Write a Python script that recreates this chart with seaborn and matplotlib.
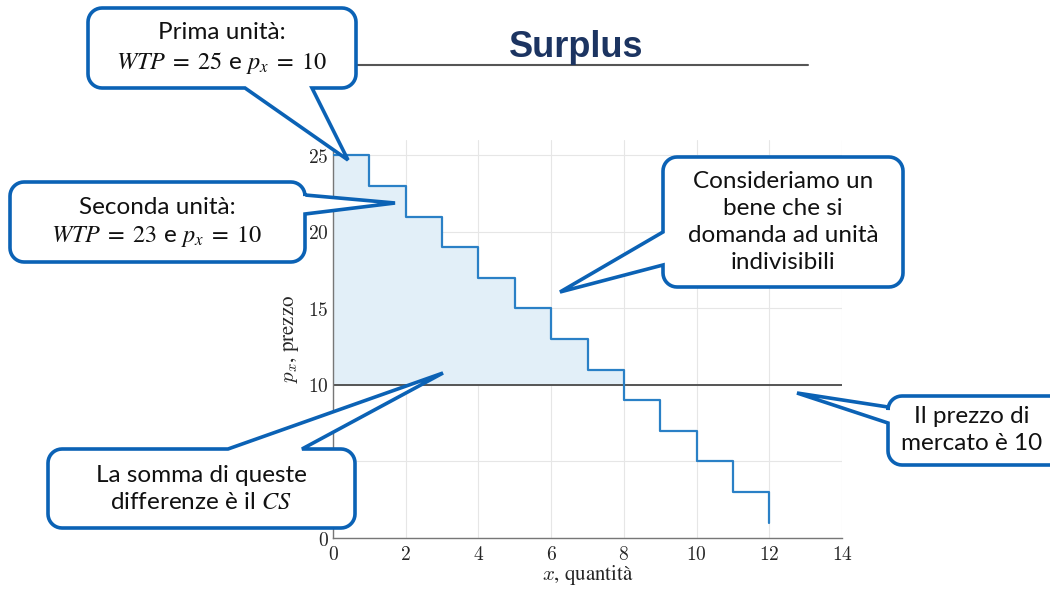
import numpy as np
import matplotlib
matplotlib.use("Agg")
import matplotlib.pyplot as plt
import seaborn as sns
from matplotlib.patches import Polygon

# data
qty = [0, 1, 2, 3, 4, 5, 6, 7, 8, 9, 10, 11, 12]
wtp = [25, 23, 21, 19, 17, 15, 13, 11, 9, 7, 5, 3, 1]
price = 10
xticks = [0, 2, 4, 6, 8, 10, 12, 14]
yticks = [0, 5, 10, 15, 20, 25]

title = "Surplus"
notes = [
    "Prima unità:\n$WTP\\;=\\;25$ e $p_x\\;=\\;10$",
    "Seconda unità:\n$WTP\\;=\\;23$ e $p_x\\;=\\;10$",
    "Consideriamo un\nbene che si\ndomanda ad unità\nindivisibili",
    "Il prezzo di\nmercato è 10",
    "La somma di queste\ndifferenze è il $CS$",
]

sns.set_style("white")
plt.rcParams["mathtext.fontset"] = "cm"
plt.rcParams["font.family"] = ["Lato", "DejaVu Sans"]

W, H = 1050, 589
fig = plt.figure(figsize=(W / 100, H / 100), dpi=100)
ax = fig.add_axes([333 / W, 1 - 538 / H, 509 / W, 398 / H])

blue = "#2a80c6"
sns.lineplot(x=qty, y=wtp, drawstyle="steps-post", color=blue, lw=1.6, ax=ax, zorder=3)
n = qty.index(8) + 1
ax.fill_between(qty[:n], wtp[:n], price, step="post", color="#e2eff8", lw=0, zorder=1)
ax.hlines(price, 0, 14, color="#555555", lw=1.4, zorder=2)

ax.set_xlim(0, 14)
ax.set_ylim(0, 26)
ax.set_xticks(xticks)
ax.set_yticks(yticks)
ax.set_xticklabels([f"${v}$" for v in xticks])
ax.set_yticklabels([f"${v}$" for v in yticks])
ax.tick_params(direction="in", length=4, width=0.8, color="#777777",
               labelsize=14, labelcolor="#262626")
ax.tick_params(axis="x", pad=5)
ax.tick_params(axis="y", pad=3)
ax.grid(True, color="#e6e6e6", lw=0.8)
ax.set_axisbelow(True)
for s in ["top", "right"]:
    ax.spines[s].set_visible(False)
for s in ["bottom", "left"]:
    ax.spines[s].set_color("#777777")
    ax.spines[s].set_linewidth(1.0)
ax.set_xlabel("$x$, quantità", fontsize=15, color="#262626", labelpad=0,
              family="STIXGeneral")
ax.set_ylabel("$p_x$, prezzo", fontsize=15, color="#262626", labelpad=5,
              family="STIXGeneral")

# overlay in pixel coordinates for the slide decorations
ov = fig.add_axes([0, 0, 1, 1], zorder=10)
ov.set_xlim(0, W)
ov.set_ylim(H, 0)
ov.axis("off")
ov.patch.set_alpha(0)

ov.plot([300, 808], [65, 65], color="#555555", lw=1.5, zorder=0)
ov.text(576, 57, title, fontsize=26, fontweight="bold", color="#1c3461",
        family="Liberation Sans", ha="center", va="baseline")


def callout(x0, y0, x1, y1, side, b1, b2, tip, r=14):
    pts = []

    def arc(cx, cy, a0, a1):
        for t in np.linspace(np.radians(a0), np.radians(a1), 10):
            pts.append((cx + r * np.cos(t), cy + r * np.sin(t)))

    pts.append((x0 + r, y0))
    if side == "top":
        pts.extend([(b1, y0), tip, (b2, y0)])
    arc(x1 - r, y0 + r, -90, 0)
    if side == "right":
        pts.extend([(x1, b1), tip, (x1, b2)])
    arc(x1 - r, y1 - r, 0, 90)
    if side == "bottom":
        pts.extend([(b2, y1), tip, (b1, y1)])
    arc(x0 + r, y1 - r, 90, 180)
    if side == "left":
        pts.extend([(x0, b2), tip, (x0, b1)])
    arc(x0 + r, y0 + r, 180, 270)
    ov.add_patch(Polygon(pts, closed=True, fc="white", ec="#0b62b5", lw=2.6,
                         joinstyle="miter", zorder=2))


boxes = [
    (88, 8, 356, 88, "bottom", 245, 312, (348, 160)),
    (10, 182, 305, 262, "right", 195, 214, (395, 203)),
    (663, 157, 903, 287, "left", 232, 265, (560, 292)),
    (888, 396, 1070, 465, "left", 407, 423, (797, 393)),
    (48, 449, 355, 528, "top", 228, 302, (443, 373)),
]
centers = [(222, 49), (157, 223), (783, 222), (972, 430), (201, 489)]

for b, c, t in zip(boxes, centers, notes):
    callout(*b)
    ov.text(c[0], c[1], t, fontsize=17.5, color="#111111", ha="center", va="center",
            linespacing=1.35, math_fontfamily="stix", zorder=3)

fig.savefig("out.png", dpi=100)
